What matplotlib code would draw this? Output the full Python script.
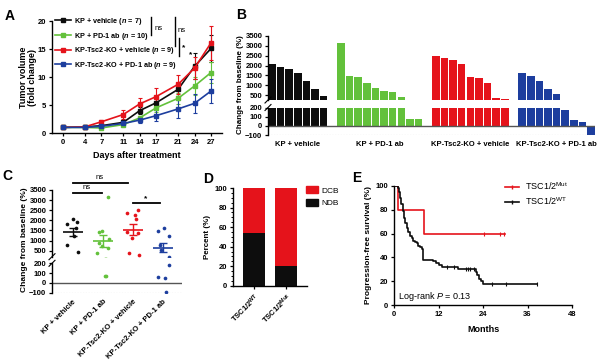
import matplotlib
matplotlib.use('Agg')
import matplotlib.pyplot as plt
import numpy as np
from matplotlib.lines import Line2D
from matplotlib.patches import Patch

plt.rcParams['font.family'] = ['Liberation Sans', 'DejaVu Sans']
plt.rcParams['font.weight'] = 'bold'
plt.rcParams['axes.labelweight'] = 'bold'
plt.rcParams['mathtext.fontset'] = 'custom'
plt.rcParams['mathtext.rm'] = 'Liberation Sans:bold'
plt.rcParams['mathtext.it'] = 'Liberation Sans:italic:bold'
plt.rcParams['mathtext.sf'] = 'Liberation Sans:style=italic:weight=normal'
plt.rcParams['mathtext.default'] = 'regular'
plt.rcParams['axes.linewidth'] = 1.0
for a in ('xtick', 'ytick'):
    plt.rcParams[a + '.major.width'] = 0.9
    plt.rcParams[a + '.major.size'] = 2.5
    plt.rcParams[a + '.major.pad'] = 1.5
    plt.rcParams[a + '.labelsize'] = 5.5

BLACK = '#0d0d0d'
GREEN = '#63c13b'
RED = '#e5131b'
BLUE = '#1d3e9e'
group_colors = [BLACK, GREEN, RED, BLUE]

# ---- A: tumour growth
days = [0, 4, 7, 11, 14, 17, 21, 24, 27]
a_labels = [r'KP + vehicle ($\mathit{n}$ = 7)', r'KP + PD-1 ab ($\mathit{n}$ = 10)',
            r'KP-Tsc2-KO + vehicle ($\mathit{n}$ = 9)', r'KP-Tsc2-KO + PD-1 ab ($\mathit{n}$ = 9)']
a_kp_veh = [1.0, 1.1, 1.3, 1.9, 4.0, 5.4, 7.8, 11.9, 15.1]
a_kp_pd1 = [1.0, 1.0, 0.9, 1.5, 2.7, 4.5, 6.2, 8.4, 10.8]
a_ko_veh = [1.0, 1.1, 2.0, 3.3, 5.2, 6.5, 8.7, 11.6, 16.1]
a_ko_pd1 = [1.0, 1.0, 1.2, 1.7, 2.3, 3.1, 4.3, 5.3, 7.5]
e_kp_veh = [0.1, 0.1, 0.2, 0.3, 0.6, 0.8, 1.2, 2.3, 2.4]
e_kp_pd1 = [0.1, 0.1, 0.1, 0.2, 0.4, 0.7, 1.0, 1.6, 1.9]
e_ko_veh = [0.1, 0.2, 0.4, 0.8, 1.0, 1.5, 1.7, 2.0, 3.0]
e_ko_pd1 = [0.1, 0.1, 0.2, 0.3, 0.6, 1.0, 1.6, 1.7, 2.2]

# ---- B / C: change from baseline per mouse
groups = ['KP + vehicle', 'KP + PD-1 ab', 'KP-Tsc2-KO + vehicle', 'KP-Tsc2-KO + PD-1 ab']
kp_veh = [2060, 1940, 1820, 1640, 1230, 790, 430]
kp_pd1 = [3130, 1480, 1400, 1090, 870, 720, 640, 380, 75, 75]
ko_veh = [2500, 2360, 2260, 2060, 1430, 1350, 1130, 360, 300]
ko_pd1 = [1640, 1450, 1230, 800, 530, 180, 60, 45, -95]
c_means = [1425, 980, 1525, 650]
c_sem = [215, 300, 275, 220]

# ---- D: clinical benefit
d_cats = [r'TSC1/2$^{WT}$', r'TSC1/2$^{Mut}$']
d_ndb = [53.5, 20]
d_dcb = [46.5, 80]

# ---- E: progression-free survival
wt_t = [0, 1.0, 1.3, 1.6, 2.0, 2.3, 2.6, 3.0, 3.4, 3.8, 4.3, 4.8, 5.2, 5.7, 6.1,
        6.6, 7.0, 7.5, 7.9, 10.4, 11.2, 12.0, 13.0, 17.2, 22.0, 22.5, 23.0, 23.5, 24.0, 38.6]
wt_s = [100, 98, 95, 90, 85, 79, 73, 69, 65, 61, 58, 56, 54, 53, 52,
        50, 49, 47, 38, 37, 35, 34, 32, 30, 28, 25, 22, 20, 18, 18]
wt_cens = [14.4, 16.3, 19.3, 20.0, 20.6, 21.7, 26.5, 30.2, 38.6]
mut_t = [0, 1.2, 8.1, 30.0]
mut_s = [100, 80, 60, 60]
mut_cens = [24.2, 28.7, 29.6]

W, H = 600, 362
fig = plt.figure(figsize=(W / 100, H / 100), dpi=100)


def box(l, t, r, b):
    return [l / W, 1 - b / H, (r - l) / W, (b - t) / H]


def fline(xs, ys, lw=1.0, **kw):
    fig.add_artist(Line2D([x / W for x in xs], [1 - y / H for y in ys],
                          transform=fig.transFigure, color='k', lw=lw, **kw))


def ftext(x, y, s, **kw):
    fig.text(x / W, 1 - y / H, s, **kw)


def clean(ax):
    ax.spines['top'].set_visible(False)
    ax.spines['right'].set_visible(False)


# ================= A
axA = fig.add_axes(box(52, 21, 222, 133))
for vals, err, c in zip([a_kp_veh, a_kp_pd1, a_ko_veh, a_ko_pd1],
                        [e_kp_veh, e_kp_pd1, e_ko_veh, e_ko_pd1], group_colors):
    axA.errorbar(days, vals, yerr=err, color=c, marker='s', ms=2.2, lw=1.2,
                 elinewidth=0.8, capsize=1.5, capthick=0.8)
clean(axA)
axA.set_xlim(-2, 29)
axA.set_ylim(0, 20)
axA.set_xticks(days)
axA.set_yticks([0, 5, 10, 15, 20])
axA.set_ylabel('Tumor volume\n(fold change)', fontsize=6.5, linespacing=1.0)
axA.yaxis.set_label_coords(-0.09, 0.5)
axA.set_xlabel('Days after treatment', fontsize=6.5)
axA.xaxis.set_label_coords(0.5, -0.16)
handles = [Line2D([], [], color=c, marker='s', ms=2.2, lw=1.2) for c in group_colors]
axA.legend(handles, a_labels, loc='upper left', bbox_to_anchor=(55 / W, 1 - 16 / H),
           bbox_transform=fig.transFigure, frameon=False, fontsize=5.2,
           handlelength=2.2, handletextpad=0.4, labelspacing=0.5,
           borderpad=0, borderaxespad=0)
fline([151, 151], [17, 35])
ftext(155, 28, 'ns', fontsize=5.5, fontweight='normal', va='center')
fline([175, 175], [17, 46])
ftext(178, 30, 'ns', fontsize=5.5, fontweight='normal', va='center')
fline([179, 179], [38, 56])
ftext(182, 48, '*', fontsize=6, va='center')
ftext(191, 55, '*', fontsize=6, va='center', ha='center')

# ================= B
axBu = fig.add_axes(box(268, 36, 595, 100))
axBl = fig.add_axes(box(268, 107.7, 595, 135))
start = 0
for vals, c in zip([kp_veh, kp_pd1, ko_veh, ko_pd1], group_colors):
    xs = start + np.arange(len(vals))
    for ax in (axBu, axBl):
        ax.bar(xs, vals, width=0.88, color=c, edgecolor='none')
    start += len(vals) + 1
centers = []
start = 0
for vals in [kp_veh, kp_pd1, ko_veh, ko_pd1]:
    centers.append(start + (len(vals) - 1) / 2)
    start += len(vals) + 1
for ax in (axBu, axBl):
    clean(ax)
    ax.spines['bottom'].set_visible(False)
    ax.set_xlim(-0.45, start - 1 - 0.55)
axBu.set_ylim(250, 3500)
axBu.set_yticks(range(500, 3501, 500))
axBu.set_xticks([])
axBl.set_ylim(-100, 200)
axBl.set_yticks([-100, 0, 100, 200])
axBl.axhline(0, color='#555555', lw=1.0)
axBl.axhline(-100, color='#999999', lw=0.8, ls=(0, (1, 1.5)))
axBl.set_xticks(centers)
axBl.set_xticklabels(groups, fontsize=5.5)
axBl.tick_params(axis='x', length=0, pad=4)
ftext(241, 85, 'Change from baseline (%)', rotation=90, fontsize=5.8,
      ha='center', va='center')
fline([265, 271], [103, 97], lw=0.8)
fline([265, 271], [110.5, 104.5], lw=0.8)

# ================= C
axCu = fig.add_axes(box(52, 190, 182, 256.7))
axCl = fig.add_axes(box(52, 263.3, 182, 292.7))
for i, (vals, c) in enumerate(zip([kp_veh, kp_pd1, ko_veh, ko_pd1], group_colors)):
    n = len(vals)
    offs = 0.2 * np.sin(np.arange(n) * 2.3 + i)
    x = np.full(n, i + 1.0) + offs
    for ax in (axCu, axCl):
        ax.scatter(x, vals, s=7, color=c, linewidths=0, zorder=3)
    axCu.hlines(c_means[i], i + 1 - 0.33, i + 1 + 0.33, color=c, lw=1.2)
    axCu.errorbar(i + 1, c_means[i], yerr=c_sem[i], color=c, lw=1.0, capsize=3,
                  capthick=1.0)
for ax in (axCu, axCl):
    clean(ax)
    ax.spines['bottom'].set_visible(False)
    ax.set_xlim(0.31, 4.63)
axCu.set_ylim(200, 3500)
axCu.set_yticks(range(500, 3501, 500))
axCu.set_xticks([])
axCl.set_ylim(-100, 200)
axCl.set_yticks([-100, 0, 100, 200])
axCl.axhline(0, color='#555555', lw=1.0)
axCl.axhline(-100, color='#999999', lw=0.8, ls=(0, (1, 1.5)))
axCl.set_xticks([1, 2, 3, 4])
axCl.set_xticklabels(groups, fontsize=5.5, rotation=45, ha='right',
                     rotation_mode='anchor')
axCl.tick_params(axis='x', length=0, pad=4)
ftext(25, 240, 'Change from baseline (%)', rotation=90, fontsize=6,
      ha='center', va='center')
fline([49, 55], [259.7, 253.7], lw=0.8)
fline([49, 55], [266.3, 260.3], lw=0.8)
fline([73, 128], [182.7, 182.7], lw=1.3)
ftext(100, 181, 'ns', fontsize=5.5, fontweight='normal', ha='center', va='bottom')
fline([73, 102], [192.7, 192.7], lw=1.3)
ftext(87, 191, 'ns', fontsize=5.5, fontweight='normal', ha='center', va='bottom')
fline([133, 160], [203.3, 203.3], lw=1.3)
ftext(146, 202.5, '*', fontsize=6, ha='center', va='bottom')

# ================= D
axD = fig.add_axes(box(233, 188, 307, 285.7))
xd = np.arange(len(d_cats))
axD.bar(xd, d_ndb, width=0.7, color=BLACK, label='NDB')
axD.bar(xd, d_dcb, width=0.7, bottom=d_ndb, color=RED, label='DCB')
clean(axD)
axD.set_xlim(-0.67, 1.66)
axD.set_ylim(0, 100)
axD.set_yticks(range(0, 101, 20))
axD.set_yticks(range(0, 101, 5), minor=True)
axD.tick_params(axis='y', which='minor', length=1.5, width=0.7)
axD.set_xticks(xd)
axD.set_xticklabels(d_cats, fontsize=5.5, rotation=45, ha='right',
                    rotation_mode='anchor')
axD.set_ylabel('Percent (%)', fontsize=5.8)
axD.yaxis.set_label_coords(-0.3, 0.5)
axD.legend([Patch(color=RED), Patch(color=BLACK)], ['DCB', 'NDB'], loc='upper left',
           bbox_to_anchor=(306 / W, 1 - 186 / H), bbox_transform=fig.transFigure,
           frameon=False, prop={'size': 6, 'weight': 'normal'}, handlelength=1.4,
           handleheight=1.0, handletextpad=0.5, labelspacing=0.5,
           borderpad=0, borderaxespad=0)

# ================= E
axE = fig.add_axes(box(394, 186, 572, 305))
axE.step(mut_t, mut_s, where='post', color=RED, lw=1.2)
axE.step(wt_t, wt_s, where='post', color=BLACK, lw=1.2)


def surv_at(ts, ss, tq):
    idx = np.searchsorted(ts, tq, side='right') - 1
    return np.asarray(ss)[idx]


axE.plot(mut_cens, surv_at(mut_t, mut_s, mut_cens), ls='none', marker='|',
         ms=3, mew=0.8, color=RED)
axE.plot(wt_cens, surv_at(wt_t, wt_s, wt_cens), ls='none', marker='|',
         ms=3, mew=0.8, color=BLACK)
clean(axE)
axE.set_xlim(0, 48)
axE.set_ylim(0, 100)
axE.set_xticks([0, 12, 24, 36, 48])
axE.set_yticks(range(0, 101, 20))
axE.set_ylabel('Progression-free survival (%)', fontsize=6)
axE.yaxis.set_label_coords(-0.125, 0.5)
axE.set_xlabel('Months', fontsize=6.5)
axE.xaxis.set_label_coords(0.5, -0.17)
axE.text(0.02, 0.07, r'Log-rank $\mathsf{P}$ = 0.13', transform=axE.transAxes,
         fontsize=6.5, fontweight='normal', va='center')
axE.legend([Line2D([], [], color=RED, lw=1.2, marker='|', ms=3),
            Line2D([], [], color=BLACK, lw=1.2, marker='|', ms=3)],
           [r'TSC1/2$^{Mut}$', r'TSC1/2$^{WT}$'], loc='upper left',
           bbox_to_anchor=(505 / W, 1 - 180 / H), bbox_transform=fig.transFigure,
           frameon=False, prop={'size': 6.5, 'weight': 'normal'}, handlelength=1.6,
           handletextpad=0.6, labelspacing=0.4, borderpad=0, borderaxespad=0)

# panel letters
for (x, y, s) in [(5, 9, 'A'), (236, 8, 'B'), (2, 169, 'C'), (203, 172, 'D'), (352, 171, 'E')]:
    ftext(x, y, s, fontsize=10, va='top')

fig.savefig('out.png', dpi=100)
